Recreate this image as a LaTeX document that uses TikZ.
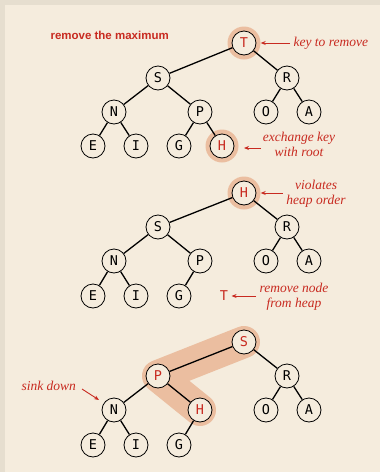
\documentclass[tikz,border=0pt]{standalone}
\usepackage{fontspec}
\setmainfont{Liberation Serif}
\setsansfont{Liberation Sans}
\setmonofont{DejaVu Sans Mono}
\usetikzlibrary{arrows.meta}

\definecolor{panel}{RGB}{245,236,221}
\definecolor{strip}{RGB}{230,222,207}
\definecolor{halocol}{RGB}{235,190,160}
\definecolor{redtext}{RGB}{200,42,32}

\tikzset{
	heapnode/.style={draw, circle, line width=0.8pt, fill=panel, minimum size=24pt, inner sep=0pt, font=\ttfamily\fontsize{13.5}{14}\selectfont},
	hot/.style={heapnode, text=redtext},
	halo/.style={circle, fill=halocol, minimum size=33pt, inner sep=0pt},
	link/.style={line width=1.3pt},
	note/.style={text=redtext, align=center, font=\itshape\fontsize{13.5}{15}\selectfont},
	pointer/.style={draw=redtext, line width=0.9pt, -{Stealth[length=5pt, width=4pt]}}
}

\begin{document}
\begin{tikzpicture}[x=1pt, y=-1pt]

				\fill[strip] (0,0) rectangle (380,472);
				\fill[panel] (5,5) rectangle (380,472);
				\useasboundingbox (0,0) rectangle (380,472);

				\node[text=redtext, font=\sffamily\bfseries\fontsize{11.5}{12}\selectfont, anchor=west] (caption) at (47,35) {remove the maximum};

				% first tree
				\node[halo] (t1Thalo) at (244,43) {};
				\node[halo] (t1Hhalo) at (222,146) {};
				\node[hot] (t1T) at (244,43) {T};
				\node[heapnode] (t1S) at (158,78) {S};
				\node[heapnode] (t1R) at (287,78) {R};
				\node[heapnode] (t1N) at (114,112) {N};
				\node[heapnode] (t1P) at (200,112) {P};
				\node[heapnode] (t1O) at (266,112) {O};
				\node[heapnode] (t1A) at (309,112) {A};
				\node[heapnode] (t1E) at (93,146) {E};
				\node[heapnode] (t1I) at (136,146) {I};
				\node[heapnode] (t1G) at (179,146) {G};
				\node[hot] (t1H) at (222,146) {H};
				\draw[link] (t1T) -- (t1S);
				\draw[link] (t1T) -- (t1R);
				\draw[link] (t1S) -- (t1N);
				\draw[link] (t1S) -- (t1P);
				\draw[link] (t1R) -- (t1O);
				\draw[link] (t1R) -- (t1A);
				\draw[link] (t1N) -- (t1E);
				\draw[link] (t1N) -- (t1I);
				\draw[link] (t1P) -- (t1G);
				\draw[link] (t1P) -- (t1H);

				\node[note, anchor=west] (keynote) at (290,43) {key to remove};
				\draw[pointer] (keynote.west) -- (t1Thalo.east);
				\node[note] (swapnote) at (299,144) {exchange key\\with root};
				\coordinate (swaptail) at (261,148);
				\coordinate (swaphead) at (244,148);
				\draw[pointer] (swaptail) -- (swaphead);

				% second tree
				\node[halo] (t2Hhalo) at (244,193) {};
				\node[hot] (t2H) at (244,193) {H};
				\node[heapnode] (t2S) at (158,227) {S};
				\node[heapnode] (t2R) at (287,227) {R};
				\node[heapnode] (t2N) at (114,261) {N};
				\node[heapnode] (t2P) at (200,261) {P};
				\node[heapnode] (t2O) at (266,261) {O};
				\node[heapnode] (t2A) at (309,261) {A};
				\node[heapnode] (t2E) at (93,296) {E};
				\node[heapnode] (t2I) at (136,296) {I};
				\node[heapnode] (t2G) at (179,296) {G};
				\node[text=redtext, font=\ttfamily\fontsize{13.5}{14}\selectfont] (t2T) at (224,296) {T};
				\draw[link] (t2H) -- (t2S);
				\draw[link] (t2H) -- (t2R);
				\draw[link] (t2S) -- (t2N);
				\draw[link] (t2S) -- (t2P);
				\draw[link] (t2R) -- (t2O);
				\draw[link] (t2R) -- (t2A);
				\draw[link] (t2N) -- (t2E);
				\draw[link] (t2N) -- (t2I);
				\draw[link] (t2P) -- (t2G);

				\node[note] (ordernote) at (316,194) {violates\\heap order};
				\draw[pointer] (ordernote.west |- t2H) -- (t2Hhalo.east);
				\node[note] (dropnote) at (294,297) {remove node\\from heap};
				\draw[pointer] (dropnote.west |- t2T) -- (t2T.east);

				% third tree
				\coordinate (c3S) at (244,342);
				\coordinate (c3P) at (158,376);
				\coordinate (c3H) at (200,410);
				\draw[halocol, line width=32pt, line cap=round, line join=round] (c3S) -- (c3P) -- (c3H);
				\node[hot] (t3S) at (c3S) {S};
				\node[heapnode] (t3R) at (287,376) {R};
				\node[hot] (t3P) at (c3P) {P};
				\node[heapnode] (t3N) at (114,410) {N};
				\node[hot] (t3H) at (c3H) {H};
				\node[heapnode] (t3O) at (266,410) {O};
				\node[heapnode] (t3A) at (309,410) {A};
				\node[heapnode] (t3E) at (93,445) {E};
				\node[heapnode] (t3I) at (136,445) {I};
				\node[heapnode] (t3G) at (179,445) {G};
				\draw[link] (t3S) -- (t3P);
				\draw[link] (t3S) -- (t3R);
				\draw[link] (t3P) -- (t3N);
				\draw[link] (t3P) -- (t3H);
				\draw[link] (t3R) -- (t3O);
				\draw[link] (t3R) -- (t3A);
				\draw[link] (t3N) -- (t3E);
				\draw[link] (t3N) -- (t3I);
				\draw[link] (t3H) -- (t3G);

				\node[note, anchor=west] (sinknote) at (18,386) {sink down};
				\coordinate (sinktail) at (82,389);
				\coordinate (sinkhead) at (99,400);
				\draw[pointer] (sinktail) -- (sinkhead);

			\end{tikzpicture}
\end{document}
